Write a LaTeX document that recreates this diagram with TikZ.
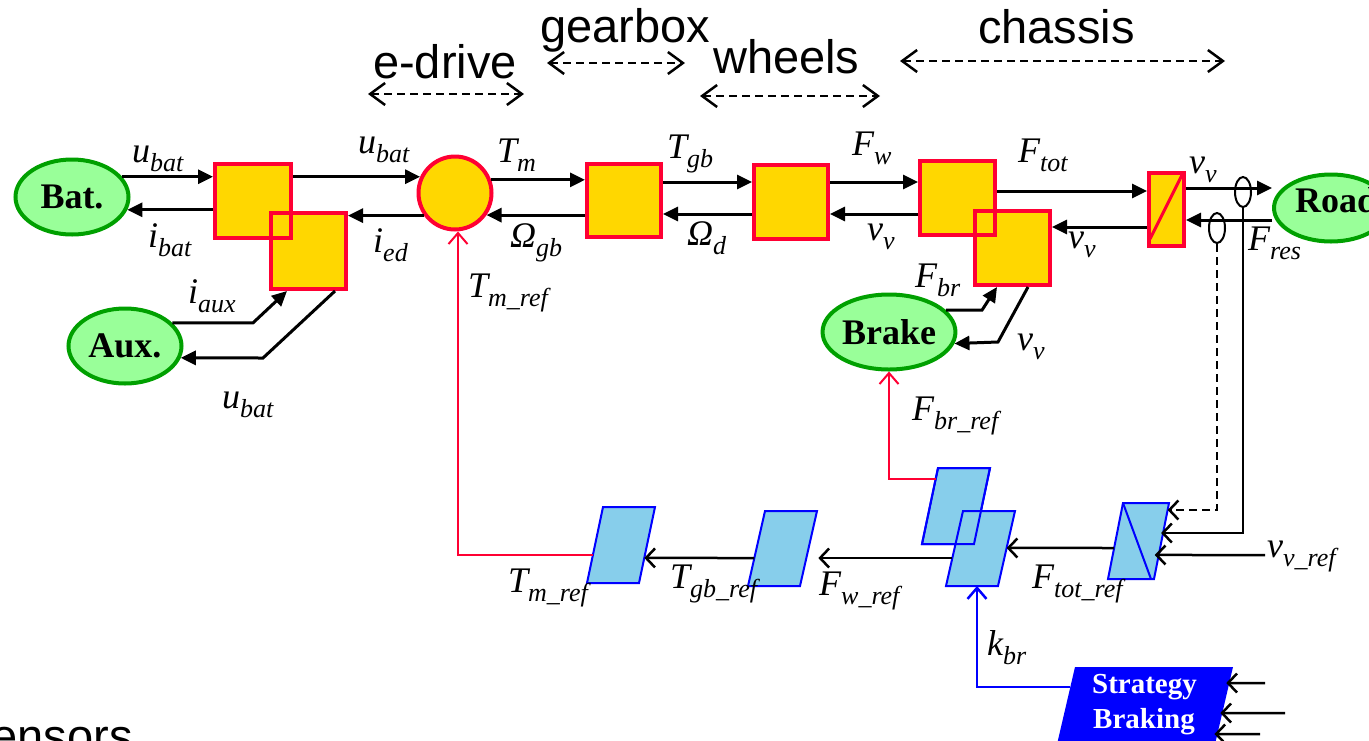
\documentclass[tikz,border=0pt]{standalone}
\usepackage{fontspec}
\setmainfont{Liberation Serif}
\setsansfont{Liberation Sans}
\usetikzlibrary{arrows.meta,calc,shapes.geometric}
\definecolor{gold}{HTML}{FFD700}
\definecolor{bred}{HTML}{FF0033}
\definecolor{egreen}{HTML}{99FF99}
\definecolor{dgreen}{HTML}{00A000}
\definecolor{sky}{HTML}{87CEEB}
\definecolor{pblue}{HTML}{0000FF}
\newcommand\sub[2]{#1\raisebox{-9pt}{\fontsize{26}{26}\selectfont #2}}
\newcommand\pgram[6]{%
  \coordinate (#1-tl) at (#2,#3);
  \coordinate (#1-tr) at (#2+#6,#3);
  \coordinate (#1-br) at (#4+#6,#5);
  \coordinate (#1-bl) at (#4,#5);
  \path[pbox] (#1-tl) -- (#1-tr) -- (#1-br) -- (#1-bl) -- cycle;}
\begin{document}
\begin{tikzpicture}[x=1pt,y=-1pt,
  ybox/.style={rectangle,draw=bred,fill=gold,line width=4pt,inner sep=0pt},
  rborder/.style={draw=bred,line width=4pt},
  ell/.style={ellipse,draw=dgreen,fill=egreen,line width=4pt,inner sep=0pt,
    font=\fontsize{36}{40}\selectfont\bfseries},
  pbox/.style={draw=pblue,fill=sky,line width=2pt,line join=miter},
  pline/.style={draw=pblue,line width=2pt},
  sens/.style={ellipse,draw,line width=2pt,inner sep=0pt,minimum width=16pt,minimum height=30pt},
  lab/.style={inner sep=0pt,anchor=base west,font=\fontsize{36}{40}\selectfont\itshape},
  rlab/.style={inner sep=0pt,anchor=base west,font=\sffamily\fontsize{47}{50}\selectfont},
  stxt/.style={inner sep=0pt,anchor=base,text=white,font=\fontsize{29}{32}\selectfont\bfseries},
  sig/.style={line width=3pt,-{Triangle[length=15pt,width=14pt]}},
  refa/.style={line width=2.5pt,-{Straight Barb[length=9pt,width=19pt]}},
  span/.style={line width=2.5pt,dash pattern=on 8pt off 5pt,
    {Straight Barb[length=15pt,width=22pt]}-{Straight Barb[length=15pt,width=22pt]}},
  redref/.style={draw=bred,line width=2pt,-{Straight Barb[length=11pt,width=19pt]}},
  blueref/.style={draw=pblue,line width=2.5pt,-{Straight Barb[length=11pt,width=19pt]}}]
\useasboundingbox (0,0) rectangle (1369,740);
\clip (0,0) rectangle (1369,740);

% helper rows
\coordinate (y182) at (0,182);
\coordinate (y188) at (0,188);
\coordinate (y191) at (0,191);
\coordinate (y214) at (0,214);
\coordinate (y220) at (0,220);
\coordinate (y227) at (0,227);

% region labels and spans
\node[rlab] (ted) at (373,78) {e-drive};
\node[rlab] (tgb) at (540,42) {gearbox};
\node[rlab] (twh) at (713,73) {wheels};
\node[rlab] (tch) at (978,43) {chassis};
\coordinate (ed1) at (368,94); \coordinate (ed2) at (524,94);
\coordinate (gb1) at (547,63); \coordinate (gb2) at (685,63);
\coordinate (wh1) at (700,96); \coordinate (wh2) at (880,96);
\coordinate (ch1) at (900,61); \coordinate (ch2) at (1225,61);
\draw[span] (ed1) -- (ed2);
\draw[span] (gb1) -- (gb2);
\draw[span] (wh1) -- (wh2);
\draw[span] (ch1) -- (ch2);

% sources
\node[ell,minimum width=113pt,minimum height=75pt] (bat) at (72,197) {Bat.};
\node[ell,minimum width=113pt,minimum height=75pt] (aux) at (125,346) {Aux.};
\node[ell,minimum width=113pt,minimum height=75pt] (br) at (889,332) {Brake};
\node[ell,minimum width=114pt,minimum height=67pt] (road) at (1331,208) {};
\node[inner sep=0pt,anchor=base west,font=\fontsize{36}{40}\selectfont\bfseries] (roadt) at (1295,212) {Road};

% yellow blocks
\node[ybox,minimum width=76pt,minimum height=74pt] (b1) at (253,201) {};
\node[ybox,minimum width=75pt,minimum height=76pt] (b2) at (308.5,251) {};
\draw[rborder] ($(b1.north west)+(2,2)$) rectangle ($(b1.south east)+(-2,-2)$);
\node[circle,draw=bred,fill=gold,line width=4pt,minimum size=73pt,inner sep=0pt] (ce) at (455,193) {};
\node[ybox,minimum width=74pt,minimum height=73pt] (b3) at (624,200.5) {};
\node[ybox,minimum width=74pt,minimum height=74pt] (b4) at (791,202) {};
\node[ybox,minimum width=75pt,minimum height=74pt] (b5) at (957.5,198) {};
\node[ybox,minimum width=75pt,minimum height=74pt] (b6) at (1012.5,248) {};
\draw[rborder] ($(b5.north west)+(2,2)$) rectangle ($(b5.south east)+(-2,-2)$);
\node[ybox,minimum width=35pt,minimum height=73pt] (nb) at (1166.5,209.5) {};
\draw[bred,line width=3pt] ($(nb.south west)+(3,-9)$) -- ($(nb.north east)+(-3,2)$);

% sensors
\node[sens] (s1) at (1243,192) {};
\node[sens] (s2) at (1217,228) {};

% chain arrows
\draw[sig] (bat.22) -- (bat.22 -| b1.west);
\draw[sig] (b1.west |- bat.-13) -- (bat.-13);
\draw[sig] (b1.east |- ce.155) -- (ce.155);
\draw[sig] (ce.216) -- (ce.216 -| b2.east);
\draw[sig] (ce.20) -- (ce.20 -| b3.west);
\draw[sig] (b3.west |- ce.-35) -- (ce.-35);
\draw[sig] (b3.east |- y182) -- (b4.west |- y182);
\draw[sig] (b4.west |- y214) -- (b3.east |- y214);
\draw[sig] (b4.east |- y182) -- (b5.west |- y182);
\draw[sig] (b5.west |- y214) -- (b4.east |- y214);
\draw[sig] (b5.east |- y191) -- (nb.west |- y191);
\draw[sig] (nb.west |- y227) -- (b6.east |- y227);
\draw[sig] (nb.east |- y188) -- (road.west |- y188);
\draw[sig] (road.west |- y220) -- (nb.east |- y220);

% aux and brake links
\coordinate (ka) at (253,323); \coordinate (xa) at (287,0);
\coordinate (kb) at (263,358); \coordinate (xb) at (335,0);
\draw[sig] (aux.26) -- (aux.26 -| ka) -- (b2.south -| xa);
\draw[sig] (b2.south -| xb) -- (kb) -- (aux.-12);
\coordinate (kc) at (982,313); \coordinate (xc) at (997,0);
\coordinate (kd) at (998,342); \coordinate (xd) at (1028,0);
\draw[sig] (br.21) -- (br.21 -| kc) -- (b6.south -| xc);
\draw[sig] (b6.south -| xd) -- (kd) -- (br.-10);

% control parallelograms
\pgram{p1}{603}{507}{587}{583}{52}
\pgram{p2}{765}{511}{748}{586}{52}
\pgram{p3}{938}{468}{922}{544}{52}
\pgram{p4}{963}{511}{946}{586}{52}
\draw[pline] (p3-tl) -- (p3-tr) -- (p3-br) -- (p3-bl) -- cycle;
\pgram{p5}{1123}{503}{1108}{579}{46}
\draw[pline] (p5-tl) -- ($(p5-br)+(-3,0)$);
% strategy block
\coordinate (sg-tl) at (1075,667); \coordinate (sg-tr) at (1233,667);
\coordinate (sg-br) at (1209.7,767); \coordinate (sg-bl) at (1051.7,767);
\fill[pblue] (sg-tl) -- (sg-tr) -- (sg-br) -- (sg-bl) -- cycle;
\node[stxt] (st1) at (1144.5,693) {Strategy};
\node[stxt] (st2) at (1144,728) {Braking};

% ports
\coordinate (p1r) at ($(p1-br)!0.33!(p1-tr)$);
\coordinate (p1l) at ($(p1-bl)!0.37!(p1-tl)$);
\coordinate (p2l) at ($(p2-bl)!0.373!(p2-tl)$);
\coordinate (p2r) at ($(p2-br)!0.373!(p2-tr)+(12,0)$);
\coordinate (p3l) at ($(p3-bl)!0.855!(p3-tl)$);
\coordinate (p4l) at ($(p4-bl)!0.373!(p4-tl)$);
\coordinate (p4r) at ($(p4-br)!0.507!(p4-tr)$);
\coordinate (p4b) at ($(p4-bl)+(31,0)$);
\coordinate (p5l) at ($(p5-bl)!0.408!(p5-tl)$);
\coordinate (p5a) at ($(p5-br)!0.908!(p5-tr)$);
\coordinate (p5b) at ($(p5-br)!0.605!(p5-tr)+(-2,0)$);
\coordinate (p5c) at ($(p5-br)!0.316!(p5-tr)+(-4,0)$);
\coordinate (sgl) at ($(sg-tl)!0.2!(sg-bl)$);
\coordinate (sga) at ($(sg-tr)!0.16!(sg-br)+(-3,0)$);
\coordinate (sgb) at ($(sg-tr)!0.46!(sg-br)+(-2,0)$);
\coordinate (sgc) at ($(sg-tr)!0.67!(sg-br)+(-3,0)$);
\coordinate (vin) at (1265,555);
\coordinate (ia) at (1265,683);
\coordinate (ib) at (1285,713);
\coordinate (ic) at (1260,734);
\coordinate (tmx) at ($(ce.south)+(3,0)$);

% control arrows
\draw[refa] (p2l) -- (p1r);
\draw[refa] (p4l) -- (p2r);
\draw[refa] (p5l) -- (p4r);
\draw[refa,dash pattern=on 8pt off 5pt] (s2.south) |- (p5a);
\draw[refa] (s1.south) |- (p5b);
\draw[refa] (vin) -- (p5c);
\draw[refa] (ia) -- (sga);
\draw[refa] (ib) -- (sgb);
\draw[refa] (ic) -- (sgc);
\draw[redref] (p1l) -| (tmx);
\draw[redref] (p3l) -| (br.south);
\draw[blueref] (sgl) -| (p4b);

% signal labels
\node[lab] (l1) at (132,162) {\sub{u}{bat}};
\node[lab] (l2) at (148,247) {\sub{i}{bat}};
\node[lab] (l3) at (358,153) {\sub{u}{bat}};
\node[lab] (l4) at (373,252) {\sub{i}{ed}};
\node[lab] (l5) at (188,303) {\sub{i}{aux}};
\node[lab] (l6) at (222,408) {\sub{u}{bat}};
\node[lab] (l7) at (497,162) {\sub{T}{m}};
\node[lab] (l8) at (510,247) {\sub{Ω}{gb}};
\node[lab] (l9) at (667,158) {\sub{T}{gb}};
\node[lab] (l10) at (687,245) {\sub{Ω}{d}};
\node[lab] (l11) at (852,155) {\sub{F}{w}};
\node[lab] (l12) at (867,240) {\sub{v}{v}};
\node[lab] (l13) at (1018,162) {\sub{F}{tot}};
\node[lab] (l14) at (1068,248) {\sub{v}{v}};
\node[lab] (l15) at (1189,173) {\sub{v}{v}};
\node[lab] (l16) at (1248,250) {\sub{F}{res}};
\node[lab] (l17) at (915,287) {\sub{F}{br}};
\node[lab] (l18) at (1017,350) {\sub{v}{v}};
\node[lab] (l19) at (912,420) {\sub{F}{br\_ref}};
\node[lab] (l20) at (468,297) {\sub{T}{m\_ref}};
\node[lab] (l21) at (508,592) {\sub{T}{m\_ref}};
\node[lab] (l22) at (670,588) {\sub{T}{gb\_ref}};
\node[lab] (l23) at (819,595) {\sub{F}{w\_ref}};
\node[lab] (l24) at (1032,588) {\sub{F}{tot\_ref}};
\node[lab] (l25) at (1267,557) {\sub{v}{v\_ref}};
\node[lab] (l26) at (987,655) {\sub{k}{br}};

\node[inner sep=0pt,anchor=base east,font=\sffamily\fontsize{47}{50}\selectfont] (sensors) at (133,752) {Sensors};
\end{tikzpicture}
\end{document}
